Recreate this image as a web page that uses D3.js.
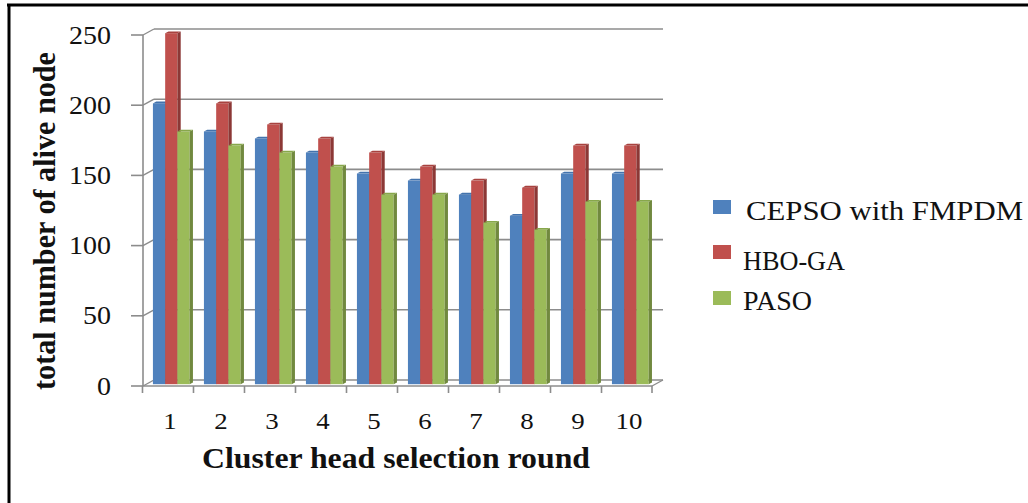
<!DOCTYPE html>
<html>
<head>
<meta charset="utf-8">
<script src="https://cdn.jsdelivr.net/npm/d3@7"></script>
<style>
	body { margin: 0; background: #fff; }
	svg { display: block; }
	text { font-family: "Liberation Serif", "Times New Roman", serif; fill: #111; }
</style>
</head>
<body>
<svg id="chart" width="1028" height="503"></svg>
<script>
var rounds = ["1", "2", "3", "4", "5", "6", "7", "8", "9", "10"];
var seriesNames = ["CEPSO with FMPDM", "HBO-GA", "PASO"];
var cepso = [200, 180, 175, 165, 150, 145, 135, 120, 150, 150];
var hboga = [250, 200, 185, 175, 165, 155, 145, 140, 170, 170];
var paso = [180, 170, 165, 155, 135, 135, 115, 110, 130, 130];
var yTicks = [0, 50, 100, 150, 200, 250];

var values = [cepso, hboga, paso];
var faceColors = ["#4f81bd", "#c0504d", "#9bbb59"];
var sideColors = ["#385d8a", "#8c3836", "#71893f"];
var topColors = ["#4373ad", "#a8423f", "#87a74b"];

var svg = d3.select("#chart");

// 3d depth of the plot box
var dx = 11, dy = -6;
var f1 = 0.3, f2 = 0.6;
var gridColor = "#8c8c8c";

var xScale = d3.scaleBand()
	.domain(rounds)
	.range([143, 652])
	.paddingInner(0.28)
	.paddingOuter(0.13);

var sScale = d3.scaleBand()
	.domain(d3.range(seriesNames.length))
	.range([0, xScale.bandwidth()]);

var yScale = d3.scaleLinear()
	.domain([0, 250])
	.range([386, 35]);

var x0 = xScale.range()[0], x1 = xScale.range()[1];

// outer frame (only top and left visible)
svg.append("line").attr("x1", 7).attr("x2", 1028).attr("y1", 5).attr("y2", 5)
	.attr("stroke", "#000").attr("stroke-width", 3);
svg.append("line").attr("x1", 9).attr("x2", 9).attr("y1", 4).attr("y2", 503)
	.attr("stroke", "#000").attr("stroke-width", 3);

var G = svg.append("g");

// back wall gridlines + left wall diagonals
yTicks.forEach(function(t) {
	G.append("line")
		.attr("x1", x0 + dx).attr("x2", x1 + dx)
		.attr("y1", yScale(t) + dy).attr("y2", yScale(t) + dy)
		.attr("stroke", gridColor).attr("stroke-width", 1.6);
	G.append("line")
		.attr("x1", x0).attr("x2", x0 + dx)
		.attr("y1", yScale(t)).attr("y2", yScale(t) + dy)
		.attr("stroke", gridColor).attr("stroke-width", 1.4);
	G.append("line")
		.attr("x1", x0 - 12).attr("x2", x0)
		.attr("y1", yScale(t)).attr("y2", yScale(t))
		.attr("stroke", gridColor).attr("stroke-width", 1.6);
	G.append("text")
		.attr("transform", "translate(111," + (yScale(t) + 8.5) + ") scale(1.12,1)")
		.attr("text-anchor", "end")
		.style("font-size", "25px")
		.text(t);
});

// floor
G.append("line")
	.attr("x1", x0).attr("x2", x1)
	.attr("y1", yScale(0)).attr("y2", yScale(0))
	.attr("stroke", gridColor).attr("stroke-width", 1.6);
G.append("line")
	.attr("x1", x1).attr("x2", x1 + dx)
	.attr("y1", yScale(0)).attr("y2", yScale(0) + dy)
	.attr("stroke", gridColor).attr("stroke-width", 1.4);
// y axis line
G.append("line")
	.attr("x1", x0).attr("x2", x0)
	.attr("y1", yScale(0)).attr("y2", yScale(250))
	.attr("stroke", gridColor).attr("stroke-width", 1.6);

// x ticks at category boundaries
var bounds = rounds.map(function(c) {
	return xScale(c) - xScale.step() * xScale.paddingInner() / 2;
});
bounds.push(x1);
bounds.forEach(function(b) {
	G.append("line")
		.attr("x1", b).attr("x2", b)
		.attr("y1", yScale(0)).attr("y2", yScale(0) + 7)
		.attr("stroke", gridColor).attr("stroke-width", 1.6);
});

// x labels
rounds.forEach(function(c) {
	G.append("text")
		.attr("transform", "translate(" + (xScale(c) + xScale.bandwidth() / 2 + 2) + ",429) scale(1.12,1)")
		.attr("text-anchor", "middle")
		.style("font-size", "24px")
		.text(c);
});

// bars
var bw = sScale.bandwidth();
var ddx = (f2 - f1) * dx, ddy = (f2 - f1) * dy;
rounds.forEach(function(c, i) {
	values.forEach(function(arr, s) {
		var xl = xScale(c) + sScale(s) + f1 * dx;
		var xr = xl + bw;
		var yt = yScale(arr[i]) + f1 * dy;
		var yb = yScale(0) + f1 * dy;
		var bar = G.append("g");
		bar.append("rect")
			.attr("x", xl).attr("y", yt)
			.attr("width", bw).attr("height", yb - yt)
			.attr("fill", faceColors[s]);
		bar.append("polygon")
			.attr("points", [[xr, yt], [xr + ddx, yt + ddy], [xr + ddx, yb + ddy], [xr, yb]].join(" "))
			.attr("fill", sideColors[s]);
		bar.append("polygon")
			.attr("points", [[xl, yt], [xr, yt], [xr + ddx, yt + ddy], [xl + ddx, yt + ddy]].join(" "))
			.attr("fill", topColors[s]);
	});
});

// axis titles
G.append("text")
	.attr("transform", "translate(55,221) rotate(-90)")
	.attr("text-anchor", "middle")
	.attr("textLength", 338)
	.attr("lengthAdjust", "spacingAndGlyphs")
	.style("font-size", "31px")
	.style("font-weight", "bold")
	.text("total number of alive node");

G.append("text")
	.attr("x", 396)
	.attr("y", 468)
	.attr("text-anchor", "middle")
	.attr("textLength", 388)
	.attr("lengthAdjust", "spacingAndGlyphs")
	.style("font-size", "29px")
	.style("font-weight", "bold")
	.text("Cluster head selection round");

// legend
var legendY = [200, 245, 291];
var legendTextX = [746, 743, 743];
var legendTextY = [220, 270, 310];
var legendLen = [277, 102, 69];
seriesNames.forEach(function(name, s) {
	G.append("rect")
		.attr("x", 713).attr("y", legendY[s])
		.attr("width", 18).attr("height", 14)
		.attr("fill", faceColors[s]);
	G.append("text")
		.attr("x", legendTextX[s])
		.attr("y", legendTextY[s])
		.attr("textLength", legendLen[s])
		.attr("lengthAdjust", "spacingAndGlyphs")
		.style("font-size", "27px")
		.text(name);
});
</script>
</body>
</html>
